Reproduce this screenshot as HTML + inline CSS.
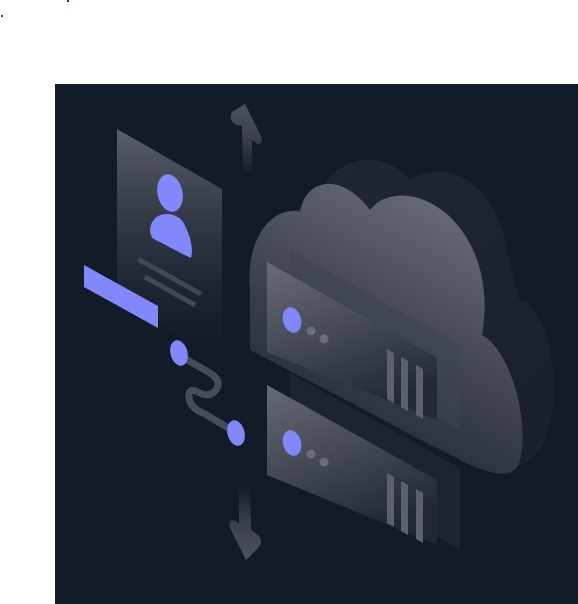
<!DOCTYPE html>
<html><head><style>html,body{margin:0;padding:0;background:#fff;width:578px;height:604px;overflow:hidden}</style></head>
<body>
<svg width="578" height="604" viewBox="0 0 578 604" xmlns="http://www.w3.org/2000/svg">
<defs>
<linearGradient id="card" x1="0" y1="0" x2="0" y2="1"><stop offset="0" stop-color="#5a5f6a"/><stop offset="1" stop-color="#141a28" stop-opacity="0.3"/></linearGradient>
<linearGradient id="cl" x1="0.7" y1="0.1" x2="0.3" y2="0.9"><stop offset="0" stop-color="#636873"/><stop offset="0.6" stop-color="#3a3f4b"/><stop offset="1" stop-color="#232937"/></linearGradient>
<linearGradient id="clb" x1="0" y1="0" x2="1" y2="1"><stop offset="0" stop-color="#222836"/><stop offset="1" stop-color="#1a202d"/></linearGradient>
<linearGradient id="sv" x1="0" y1="0" x2="0.4" y2="1"><stop offset="0" stop-color="#6a6e78"/><stop offset="1" stop-color="#222836"/></linearGradient>
<linearGradient id="arU" x1="0" y1="0" x2="0" y2="1"><stop offset="0" stop-color="#4d525d"/><stop offset="0.5" stop-color="#3a3f4a"/><stop offset="1" stop-color="#131a28"/></linearGradient>
<linearGradient id="arD" x1="0" y1="1" x2="0" y2="0"><stop offset="0" stop-color="#4d525d"/><stop offset="0.5" stop-color="#3a3f4a"/><stop offset="1" stop-color="#131a28"/></linearGradient>
</defs>
<rect x="0" y="0" width="578" height="604" fill="#fff"/>
<rect x="1" y="15" width="2" height="2" fill="#2222ee"/>
<rect x="67" y="0" width="2" height="2" fill="#2222ee"/>
<rect x="55" y="84" width="523" height="520" fill="#131a28"/>
<path d="M262,250 C262,215 295,205 315,210 C320,165 375,140 410,180 C440,160 490,175 505,240 C515,290 520,310 525,300 C555,330 565,400 540,450 C520,480 470,470 400,430 L262,350 Z" fill="url(#clb)" opacity="0.9"/>
<path d="M250,290 C245,235 275,205 300,212 C305,180 340,170 370,210 C385,190 420,190 448,215 C480,245 490,290 482,335 C510,350 530,420 520,460 C515,480 495,475 470,465 L250,350 Z" fill="url(#cl)"/>
<polygon points="117,129 222,189 222,360 117,300" fill="url(#card)"/>
<ellipse cx="170" cy="193" rx="12.5" ry="19" transform="rotate(-12 170 193)" fill="#8088fb"/>
<path d="M150,232 C150,210 175,210 183,222 C192,238 193,250 191,258 C180,253 160,242 152,238 Z" fill="#8088fb"/>
<line x1="138" y1="259" x2="201" y2="294" stroke="#434853" stroke-width="5"/>
<line x1="145" y1="277" x2="195" y2="305" stroke="#434853" stroke-width="5"/>
<polygon points="84,265 158,306 158,328 84,287" fill="#8088fb"/>
<path d="M184,358 L210,373 Q224,382 214,392 Q208,398 196,391 Q186,388 190,402 Q194,410 205,414 L230,429" fill="none" stroke="#474c57" stroke-width="7" stroke-linecap="round"/>
<ellipse cx="179" cy="353" rx="8.5" ry="13" transform="rotate(-15 179 353)" fill="#8088fb"/>
<ellipse cx="236" cy="433" rx="8.5" ry="13" transform="rotate(-15 236 433)" fill="#8088fb"/>
<path d="M245,104 L261,136 Q264,144 257,144 L252,140 L252,172 Q248,178 243,172 L242,126 L236,125 Q228,120 232,112 Z" fill="url(#arU)"/>
<path d="M239,488 Q244,482 250,488 L251,530 L257,534 Q264,540 259,547 L246,560 L230,528 Q228,518 236,521 L239,524 Z" fill="url(#arD)"/>
<polygon points="290,250 460,345 460,430 290,335" fill="#3e4350" opacity="0.55"/>
<polygon points="267,262 437,358 437,420 267,352" fill="url(#sv)" opacity="0.95"/>
<ellipse cx="292" cy="320" rx="9" ry="13" transform="rotate(-15 292 320)" fill="#8088fb"/>
<circle cx="311" cy="331" r="4.5" fill="#6b6f79"/>
<circle cx="324" cy="339" r="4.5" fill="#6b6f79"/>
<polygon points="387,349 394,353 394,403 387,399" fill="#5d616b"/>
<polygon points="401,357 408,361 408,411 401,407" fill="#5d616b"/>
<polygon points="416,365 423,369 423,419 416,415" fill="#5d616b"/>
<polygon points="290,373 460,468 460,550 290,455" fill="#2b303c" opacity="0.45"/>
<polygon points="267,385 437,480 437,545 267,475" fill="url(#sv)" opacity="0.95"/>
<ellipse cx="292" cy="443" rx="9" ry="13" transform="rotate(-15 292 443)" fill="#8088fb"/>
<circle cx="311" cy="454" r="4.5" fill="#6b6f79"/>
<circle cx="324" cy="462" r="4.5" fill="#6b6f79"/>
<polygon points="387,473 394,477 394,527 387,523" fill="#5d616b"/>
<polygon points="401,481 408,485 408,535 401,531" fill="#5d616b"/>
<polygon points="416,489 423,493 423,543 416,539" fill="#5d616b"/>
</svg>
</body></html>
